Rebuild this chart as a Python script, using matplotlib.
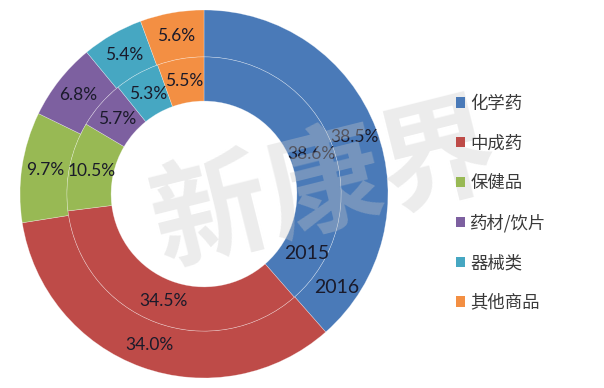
import matplotlib.pyplot as plt
from matplotlib.patches import Patch
import numpy as np

# 数据
categorias = ['化学药', '中成药', '保健品', '药材/饮片', '器械类', '其他商品']
valores_2016 = [38.5, 34.0, 9.7, 6.8, 5.4, 5.6]
valores_2015 = [38.6, 34.5, 10.5, 5.7, 5.3, 5.5]
rotulos_2016 = ['38.5%', '34.0%', '9.7%', '6.8%', '5.4%', '5.6%']
rotulos_2015 = ['38.6%', '34.5%', '10.5%', '5.7%', '5.3%', '5.5%']
anos = ['2015', '2016']

cores = ['#4a7ab8', '#be4b48', '#98b954', '#7d60a0', '#46a7c2', '#f38f43']
cor_texto = '#1a1a2a'

plt.rcParams['font.family'] = ['Noto Sans CJK SC', 'DejaVu Sans']

W, H = 604, 388
fig = plt.figure(figsize=(W / 100, H / 100), dpi=100)

# eixo da rosca: centro (204, 194) px, raio 184 px
cx, cy, r = 204, 194, 184
ax = fig.add_axes([(cx - r) / W, (H - cy - r) / H, 2 * r / W, 2 * r / H])

r_ext, r_meio, r_int = 1.0, 0.745, 0.505
borda = dict(edgecolor=(1, 1, 1, 0.45), linewidth=0.4)

fatias_ext, _ = ax.pie(valores_2016, radius=r_ext, colors=cores, startangle=90,
                       counterclock=False, wedgeprops=dict(width=r_ext - r_meio, **borda))
fatias_int, _ = ax.pie(valores_2015, radius=r_meio, colors=cores, startangle=90,
                       counterclock=False, wedgeprops=dict(width=r_meio - r_int, **borda))
ax.set_xlim(-1, 1)
ax.set_ylim(-1, 1)
ax.set_aspect('auto')


def rotular(fatias, rotulos):
    for w, txt in zip(fatias, rotulos):
        ang = np.deg2rad((w.theta1 + w.theta2) / 2)
        rr = w.r - w.width / 2
        ax.text(rr * np.cos(ang), rr * np.sin(ang), txt, ha='center', va='center',
                fontsize=12.5, family='Lato', color=cor_texto)


rotular(fatias_ext, rotulos_2016)
rotular(fatias_int, rotulos_2015)

# nomes das séries
for ano, rr, ang in zip(anos, [(r_meio + r_int) / 2 + 0.02, (r_ext + r_meio) / 2 + 0.01], [-30, -35]):
    a = np.deg2rad(ang)
    ax.text(rr * np.cos(a), rr * np.sin(a), ano, ha='center', va='center',
            fontsize=14, family='Lato', color=cor_texto)

# marca d'água
fig.text(325 / W, 1 - 188 / H, '新康界', fontsize=84, fontweight='bold', rotation=14,
         ha='center', va='center', color='#c8c8c8', alpha=0.35)

handles = [Patch(facecolor=c, edgecolor='none') for c in cores]
fig.legend(handles, categorias, loc='upper left', bbox_to_anchor=(447 / W, 1 - 86 / H),
           frameon=False, fontsize=12.5, handlelength=0.55, handleheight=0.55,
           handletextpad=0.3, labelspacing=1.25, borderpad=0, labelcolor='#3a3a3a')

plt.savefig('out.png', dpi=100)
